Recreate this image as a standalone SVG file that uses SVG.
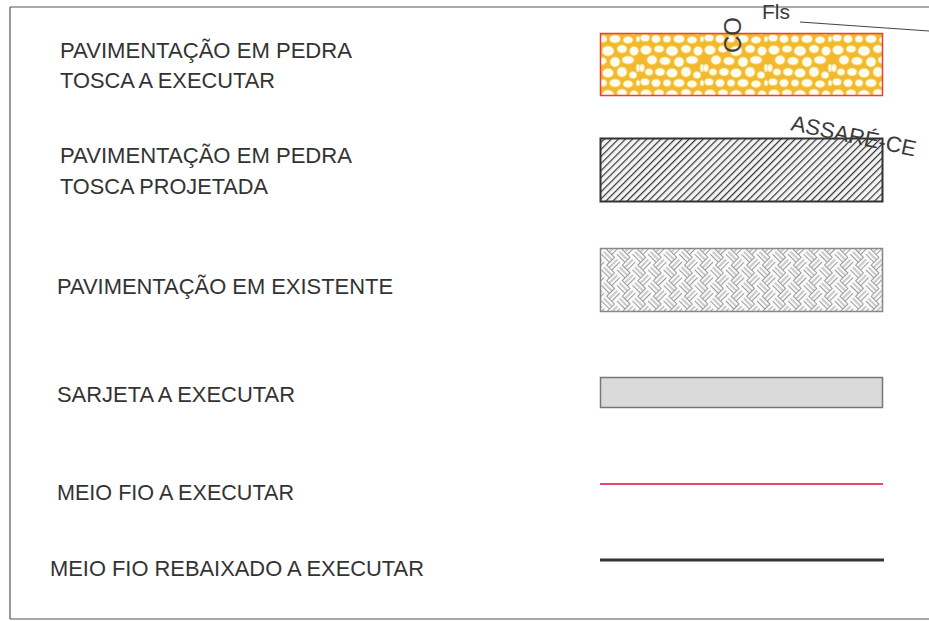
<svg xmlns="http://www.w3.org/2000/svg" width="929" height="621" viewBox="0 0 929 621">
<style>
.lbl{font-family:"Liberation Sans",Arial,sans-serif;font-size:22px;fill:#333}
.stamp{font-family:"Liberation Sans",Arial,sans-serif;fill:#3a3a3a}
.frame{stroke:#555;stroke-width:1.2;fill:none}
</style>
<defs>
<pattern id="cobble" width="64" height="44" patternUnits="userSpaceOnUse">
<rect width="64" height="44" fill="#f3b92e"/>
<g fill="#fffcee" stroke="#f8d870" stroke-width="0.8">
<ellipse cx="6" cy="6" rx="5.5" ry="4.5"/>
<ellipse cx="19" cy="5" rx="5" ry="3.5"/>
<ellipse cx="32" cy="7" rx="6" ry="5"/>
<ellipse cx="46" cy="5" rx="5" ry="4"/>
<ellipse cx="58" cy="7" rx="4.5" ry="4.5"/>
<ellipse cx="12" cy="16" rx="5" ry="4.5"/>
<ellipse cx="25" cy="17" rx="5.5" ry="4"/>
<ellipse cx="39" cy="18" rx="5" ry="5"/>
<ellipse cx="52" cy="16" rx="6" ry="4"/>
<ellipse cx="2" cy="24" rx="2.5" ry="4"/>
<ellipse cx="62" cy="24" rx="2" ry="4"/>
<ellipse cx="9" cy="28" rx="4" ry="3.5"/>
<ellipse cx="20" cy="28" rx="5" ry="4"/>
<ellipse cx="32" cy="29" rx="5.5" ry="4.5"/>
<ellipse cx="46" cy="28" rx="5" ry="5"/>
<ellipse cx="57" cy="31" rx="4" ry="3.5"/>
<ellipse cx="5" cy="38" rx="4.5" ry="3.5"/>
<ellipse cx="16" cy="39" rx="4.5" ry="4"/>
<ellipse cx="27" cy="39" rx="4" ry="3.5"/>
<ellipse cx="39" cy="39" rx="5.5" ry="4"/>
<ellipse cx="52" cy="40" rx="5" ry="3.5"/>
<ellipse cx="62" cy="39" rx="2" ry="3"/>
</g>
</pattern>
<pattern id="hatch" width="5" height="5" patternUnits="userSpaceOnUse" patternTransform="rotate(45)">
<rect width="5" height="5" fill="#f4f4f4"/>
<line x1="0" y1="0" x2="0" y2="5" stroke="#333" stroke-width="2.4"/>
</pattern>
<pattern id="weave" width="22" height="22" patternUnits="userSpaceOnUse" patternTransform="rotate(45)">
<rect width="22" height="22" fill="#fafafa"/>
<g stroke="#999" stroke-width="1">
<line x1="0" y1="0.5" x2="11" y2="0.5"/><line x1="0" y1="4" x2="11" y2="4"/><line x1="0" y1="7.5" x2="11" y2="7.5"/>
<line x1="11" y1="11.5" x2="22" y2="11.5"/><line x1="11" y1="15" x2="22" y2="15"/><line x1="11" y1="18.5" x2="22" y2="18.5"/>
<line x1="11.5" y1="0" x2="11.5" y2="11"/><line x1="15" y1="0" x2="15" y2="11"/><line x1="18.5" y1="0" x2="18.5" y2="11"/>
<line x1="0.5" y1="11" x2="0.5" y2="22"/><line x1="4" y1="11" x2="4" y2="22"/><line x1="7.5" y1="11" x2="7.5" y2="22"/>
</g>
</pattern>
</defs>
<rect width="929" height="621" fill="#ffffff"/>
<g id="frame">
<line class="frame" x1="10" y1="7" x2="929" y2="7"/>
<line class="frame" x1="10" y1="7" x2="10" y2="619"/>
<line class="frame" x1="10" y1="619" x2="929" y2="619" stroke="#777"/>
</g>
<g id="item1">
<text class="lbl" x="60" y="58" textLength="292" lengthAdjust="spacingAndGlyphs">PAVIMENTAÇÃO EM  PEDRA</text>
<text class="lbl" x="60" y="88" textLength="215" lengthAdjust="spacingAndGlyphs">TOSCA A EXECUTAR</text>
<rect x="600.5" y="33.5" width="282" height="62" fill="url(#cobble)" stroke="#e8403a" stroke-width="1.5"/>
</g>
<g id="item2">
<text class="lbl" x="60" y="163" textLength="292" lengthAdjust="spacingAndGlyphs">PAVIMENTAÇÃO EM  PEDRA</text>
<text class="lbl" x="60" y="194" textLength="208" lengthAdjust="spacingAndGlyphs">TOSCA PROJETADA</text>
<rect x="600.5" y="138.5" width="282" height="63" fill="url(#hatch)" stroke="#333" stroke-width="2"/>
</g>
<g id="item3">
<text class="lbl" x="57" y="294" textLength="336" lengthAdjust="spacingAndGlyphs">PAVIMENTAÇÃO EM  EXISTENTE</text>
<rect x="600.5" y="248.5" width="282" height="63" fill="url(#weave)" stroke="#888" stroke-width="1.5"/>
</g>
<g id="item4">
<text class="lbl" x="57" y="402" textLength="238" lengthAdjust="spacingAndGlyphs">SARJETA A EXECUTAR</text>
<rect x="600.5" y="377.5" width="282" height="30" fill="#dadada" stroke="#777" stroke-width="1.5"/>
</g>
<g id="item5">
<text class="lbl" x="57" y="500" textLength="237" lengthAdjust="spacingAndGlyphs">MEIO FIO A EXECUTAR</text>
<line x1="600" y1="484" x2="883" y2="484" stroke="#e8486a" stroke-width="1.8"/>
</g>
<g id="item6">
<text class="lbl" x="50" y="576" textLength="374" lengthAdjust="spacingAndGlyphs">MEIO FIO REBAIXADO  A EXECUTAR</text>
<line x1="600" y1="560" x2="884" y2="560" stroke="#333" stroke-width="3"/>
</g>
<g id="stamp">
<text class="stamp" font-size="24" transform="translate(741,53) rotate(-90)">CO</text>
<text class="stamp" font-size="21" x="762" y="19" fill="#555">Fls</text>
<line x1="800" y1="22" x2="929" y2="31" stroke="#444" stroke-width="1.2"/>
<text class="stamp" font-size="22" transform="translate(790,130) rotate(12)">ASSARÉ-CE</text>
</g>
</svg>
